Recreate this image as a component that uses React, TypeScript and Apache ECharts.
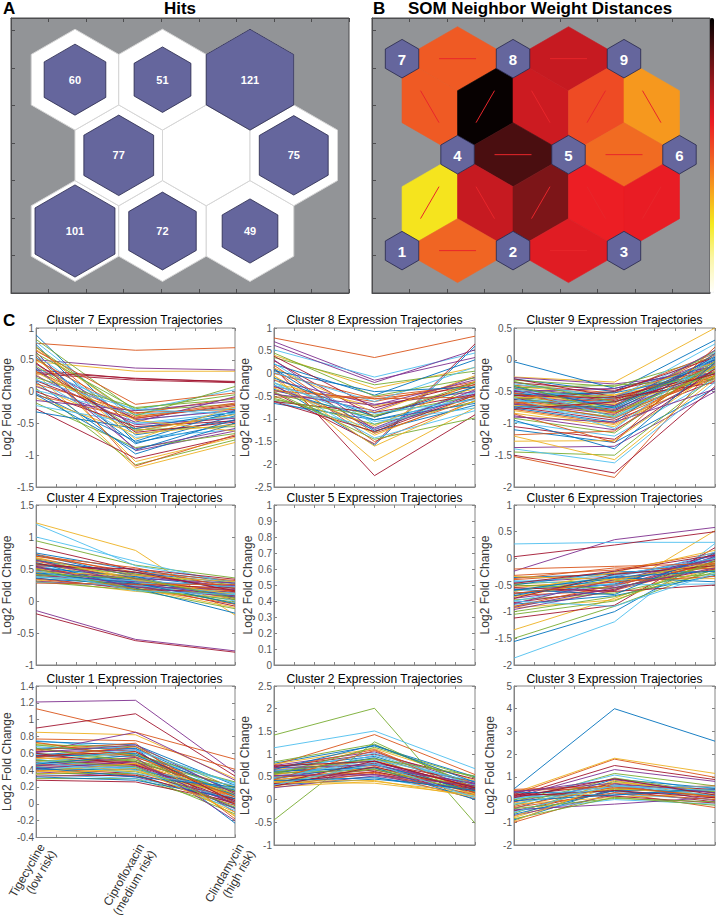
import React, { useEffect, useRef } from 'react';
import * as echarts from 'echarts';

const FONT = '"Liberation Sans", Arial, Helvetica, sans-serif';
const MATLAB_COLORS = ['#0072BD', '#D95319', '#EDB120', '#7E2F8E', '#77AC30', '#4DBEEE', '#A2142F'];
const CONDITIONS = ['Tigecycline\n(low risk)', 'Ciprofloxacin\n(medium risk)', 'Clindamycin\n(high risk)'];

// Panel A: hits per neuron (neurons 1..9; 1-3 bottom row, 4-6 middle, 7-9 top)
const NEURON_HITS = [101, 72, 49, 77, 0, 75, 60, 51, 121];
// Panel B: neighbor pairs and their weight distances (0 = close, 1 = far)
const NEIGHBOR_PAIRS = [[7, 8], [8, 9], [7, 4], [8, 4], [8, 5], [9, 5], [9, 6], [4, 5], [5, 6], [4, 1], [4, 2], [5, 2], [5, 3], [6, 3], [1, 2], [2, 3]];
const NEIGHBOR_DISTANCES = [0.5, 0.69, 0.5, 0.99, 0.68, 0.53, 0.39, 0.89, 0.47, 0.26, 0.69, 0.81, 0.62, 0.63, 0.48, 0.645];
const HOT_COLORS = ['#ffffff', '#fbf6a8', '#f5ea1e', '#f7a11d', '#ef5a24', '#ec1c24', '#a3191e', '#541012', '#000000'];

// Panel C
const CLUSTER_ORDER = [7, 8, 9, 4, 5, 6, 1, 2, 3];
const Y_MIN = [-1.5, -2.5, -2, -1, 0, -2, -0.4, -1, -2];
const Y_MAX = [1, 1, 0.5, 1.5, 1, 1, 1.4, 2.5, 5];
const Y_STEP = [0.5, 0.5, 0.5, 0.5, 0.1, 0.5, 0.2, 0.5, 1];

const cluster7 = [
  [0.89, -0.62, -0.35], [0.76, 0.65, 0.69], [0.47, 0.32, 0.32], [0.5, 0.37, 0.34], [0.82, -0.3, -0.2], [0.78, -0.45, -0.28],
  [0.34, 0.2, 0.16], [0.74, -0.8, -0.5], [0.7, -0.58, -0.4], [0.66, -0.38, -0.25], [0.62, -0.93, -0.62], [0.6, -0.27, -0.05],
  [0.57, -0.5, -0.33], [0.28, 0.18, 0.14], [0.54, -0.68, -0.45], [0.5, -0.35, -0.1], [0.46, -1.1, -0.72], [0.43, -0.44, -0.3],
  [0.4, -0.6, -0.55], [0.37, -0.3, 0.03], [0.3, 0.21, 0.15],
  [0.35, -0.82, -0.38], [0.32, -0.4, -0.18], [0.28, -1.2, -0.8],
  [0.25, -0.52, -0.42], [0.22, -0.25, -0.12], [0.2, -0.72, -0.6], [0.17, -0.42, -0.22], [0.15, -0.98, -0.5], [0.12, -0.33, -0.28],
  [0.1, -0.62, -0.36], [0.08, -0.48, -0.08], [0.05, -1.15, -0.76], [0.02, -0.36, -0.26], [0, -0.55, -0.46], [-0.03, -0.78, -0.3],
  [-0.06, -0.42, -0.2], [-0.1, -0.66, -0.52], [-0.14, -0.3, -0.15], [-0.18, -0.88, -0.66], [-0.22, -0.5, -0.4], [-0.27, -1.05, -0.7],
  [-0.32, -0.58, -0.32], [0.64, -0.2, -0.02], [0.52, -0.75, -0.24], [0.38, -0.9, -0.58], [0.7, -0.38, 0.08], [0.18, -0.28, -0.35],
  [0.45, -0.64, -0.48], [-0.05, -0.92, -0.44], [0.58, -1.17, -0.68], [0.3, -0.45, -0.62],
];
const cluster8 = [
  [-0.25, -1.58, 0.6], [0.78, 0.35, 0.82], [0.4, -0.33, 0.13], [0.7, -0.15, 0.35], [0.35, -0.25, 0.05], [0.52, -0.08, 0.45],
  [0.13, -2.25, -0.91], [0.2, -0.48, 0.3], [0.08, -1.5, -0.6], [-0.05, -1.93, -0.75], [0.62, -0.2, 0.52], [-0.5, -1.3, -0.28],
  [-0.6, -1.22, -0.42], [-0.42, -1.55, 0.65],
  [-0.66, -1.02, -0.55], [-0.3, -0.62, -0.18], [-0.22, -0.72, -0.35], [-0.38, -0.82, -0.08],
  [-0.45, -0.92, -0.5], [0.22, -1.12, -0.4], [0.28, -0.96, -0.24], [0.1, -1.27, -0.7], [0.0, -0.56, -0.3], [-0.05, -1.36, -0.48],
  [-0.15, -0.68, -0.4], [-0.55, -1.12, -0.62], [-0.2, -1.42, -0.82], [0.38, -0.76, -0.2], [-0.35, -1.02, -0.66], [-0.52, -0.52, -0.25],
  [0.12, -0.86, -0.05], [-0.28, -1.2, -0.36], [-0.4, -1.45, -0.98], [0.02, -0.62, 0.14], [-0.62, -0.86, -0.46], [-0.1, -0.96, -0.3],
  [0.18, -1.32, -0.55], [-0.32, -1.16, -0.18], [-0.46, -0.7, -0.14], [0.45, -0.5, -0.1], [-0.2, -1.06, -0.76], [-0.62, -1.28, -0.48],
  [0.06, -0.4, -0.3], [-0.38, -0.56, -0.52], [-0.12, -1.6, -0.6], [0.3, -1.24, -0.45], [-0.58, -0.95, -0.2], [-0.26, -0.88, -0.58],
];
const cluster9 = [
  [-0.3, -0.5, 0.31], [-1.52, -1.85, -0.1], [-0.27, -0.35, 0.5], [-0.28, -0.38, -0.2], [-0.32, -0.42, 0.05], [-0.35, -0.62, 0.25],
  [-0.36, -0.48, -0.12], [-0.03, -0.45, -0.1], [-0.4, -0.52, 0.1], [-0.42, -0.55, -0.25], [-0.45, -0.58, 0.0], [-0.46, -0.6, -0.15], [-0.48, -0.62, 0.12],
  [-0.5, -0.64, -0.05], [-0.52, -0.66, -0.3], [-0.53, -0.68, 0.08], [-0.55, -0.7, -0.18], [-0.56, -0.72, -0.02], [-0.58, -0.74, 0.14],
  [-0.6, -0.76, -0.22], [-0.61, -0.78, -0.08], [-0.62, -0.8, 0.02], [-0.64, -0.82, -0.28], [-0.66, -0.84, -0.12], [-0.68, -0.86, 0.06],
  [-0.7, -0.9, -0.2], [-0.72, -0.92, -0.06], [-0.74, -0.95, -0.33], [-0.76, -0.98, 0.1], [-0.78, -1.0, -0.15], [-0.8, -1.02, -0.25],
  [-0.5, -0.45, -0.1], [-0.44, -0.4, -0.3], [-0.38, -0.58, -0.05], [-0.62, -0.5, 0.04], [-0.55, -0.52, -0.2], [-0.68, -0.62, -0.1],
  [-0.72, -0.7, -0.26], [-0.48, -0.72, 0.15], [-0.58, -0.88, -0.08], [-0.65, -0.66, -0.14], [-0.3, -0.58, -0.22], [-0.42, -0.76, 0.0],
  [-0.52, -0.84, -0.3], [-0.6, -0.56, -0.04], [-0.7, -0.8, -0.18], [-0.34, -0.66, -0.12], [-0.46, -0.9, -0.08], [-0.56, -0.6, -0.36],
  [-0.74, -0.74, 0.04], [-0.66, -0.92, -0.24], [-0.84, -1.05, -0.1], [-0.88, -1.1, -0.2], [-0.92, -1.15, -0.02], [-0.98, -1.2, -0.3],
  [-1.05, -1.25, -0.14], [-1.1, -1.3, -0.45], [-1.18, -1.12, -0.06], [-1.28, -1.27, -0.18], [-1.38, -1.36, -0.5], [-1.45, -1.5, -0.25],
  [-1.4, -1.62, -0.35], [-1.5, -1.78, -0.42], [-0.95, -1.4, -0.04], [-0.85, -1.3, 0.2], [-1.2, -1.57, -0.3],
  [-0.9, -0.98, -0.46], [-0.4, -0.82, -0.2], [-0.6, -1.08, 0.06], [-0.78, -0.66, -0.22],
];
const cluster4 = [
  [0.75, 0.48, 0.3], [0.73, 0.42, 0.2], [1.22, 0.79, -0.22], [-0.15, -0.6, -0.78], [0.94, 0.56, 0.36], [1.2, 0.55, 0.3],
  [0.84, 0.48, 0.14], [0.72, 0.38, 0.05], [0.7, 0.45, 0.32], [0.68, 0.35, 0.12], [0.66, 0.4, 0.22], [0.65, 0.3, -0.05],
  [1.0, 0.62, 0.26], [-0.2, -0.62, -0.8],
  [0.63, 0.44, 0.28], [0.62, 0.34, 0.08], [0.6, 0.28, 0.18], [0.58, 0.36, 0.02],
  [0.57, 0.42, 0.25], [0.55, 0.3, 0.1], [0.54, 0.25, -0.08], [0.52, 0.38, 0.2], [0.51, 0.32, 0.15], [0.5, 0.27, 0.04],
  [0.48, 0.35, 0.28], [0.47, 0.22, -0.02], [0.46, 0.3, 0.12], [0.45, 0.26, 0.2], [0.44, 0.33, 0.06], [0.42, 0.24, 0.16],
  [0.41, 0.2, -0.1], [0.4, 0.3, 0.24], [0.39, 0.22, 0.08], [0.38, 0.28, 0.0], [0.36, 0.18, 0.14], [0.35, 0.26, 0.1],
  [0.34, 0.2, -0.05], [0.33, 0.15, 0.05], [0.31, 0.22, 0.18], [0.3, 0.17, -0.12], [0.29, 0.24, 0.12], [0.55, 0.5, 0.34],
  [0.6, 0.2, -0.19], [0.7, 0.52, 0.2], [0.45, 0.4, 0.3], [0.64, 0.27, 0.08], [0.5, 0.18, 0.02], [0.37, 0.32, 0.22],
  [0.58, 0.45, 0.16], [0.43, 0.28, -0.04], [0.28, 0.26, 0.26], [0.67, 0.33, 0.1], [0.53, 0.22, 0.06], [0.41, 0.36, 0.04],
  [0.47, 0.16, 0.1],
];
const cluster5: number[][] = [];
const cluster6 = [
  [-1.56, -1.0, 0.05], [-0.32, -0.22, 0.1], [-0.9, -0.62, 0.52], [-0.24, 0.35, 0.58], [-1.5, -0.9, -0.2], [0.27, 0.3, 0.3],
  [0.03, 0.25, 0.5], [-0.36, -0.3, -0.05], [-0.4, -0.28, -0.18], [-1.34, -0.75, -0.05], [-0.45, -0.35, 0.05], [-0.48, -0.4, -0.1],
  [-1.87, -1.19, 0.28], [-1.12, -0.88, 0.2],
  [-0.5, -0.25, -0.25], [-0.52, -0.45, 0.0], [-0.55, -0.38, -0.15], [-0.58, -0.5, 0.08],
  [-0.6, -0.42, -0.3], [-0.62, -0.33, -0.08], [-0.65, -0.55, -0.2], [-0.67, -0.48, 0.02], [-0.7, -0.6, -0.12], [-0.72, -0.4, -0.38],
  [-0.75, -0.52, -0.02], [-0.78, -0.65, -0.22], [-0.8, -0.46, 0.12], [-0.83, -0.58, -0.06], [-0.86, -0.7, -0.32], [-0.9, -0.5, -0.1],
  [-0.93, -0.78, -0.16], [-0.96, -0.6, 0.04], [-1.0, -0.72, -0.26], [-0.42, -0.5, -0.48], [-0.55, -0.62, -0.5], [-0.7, -0.36, -0.44],
  [-0.38, -0.18, -0.2], [-0.62, -0.26, 0.15], [-0.85, -0.4, -0.02], [-0.5, -0.56, -0.12], [-0.44, -0.32, 0.0], [-0.75, -0.3, -0.14],
  [-0.58, -0.68, 0.1], [-0.66, -0.44, -0.34], [-0.34, -0.4, -0.08], [-0.92, -0.55, -0.18], [-1.05, -0.8, -0.04], [-0.8, -0.9, -0.28],
  [-0.47, -0.24, 0.06], [-0.6, -0.35, -0.24], [-0.2, -0.15, -0.1],
];
const cluster1 = [
  [0.58, 0.66, -0.23], [1.13, 0.85, 0.53], [0.85, 0.82, 0.3], [1.21, 1.23, 0.37], [0.3, 0.3, -0.05], [0.75, 0.65, 0.1],
  [0.9, 1.07, 0.33], [0.74, 0.7, 0.22], [0.77, 0.75, 0.41], [0.72, 0.62, 0.05], [0.62, 0.85, 0.28], [0.7, 0.68, 0.18],
  [0.68, 0.6, -0.02], [0.28, 0.26, 0.02],
  [0.66, 0.66, 0.14], [0.65, 0.55, 0.2], [0.63, 0.58, 0.08], [0.62, 0.64, -0.1], [0.6, 0.52, 0.12],
  [0.59, 0.56, 0.25], [0.57, 0.5, 0.0], [0.56, 0.6, 0.16], [0.55, 0.48, 0.06], [0.54, 0.54, -0.14], [0.52, 0.46, 0.1],
  [0.51, 0.52, 0.2], [0.5, 0.44, 0.02], [0.49, 0.5, 0.14], [0.48, 0.42, -0.05], [0.47, 0.47, 0.08], [0.46, 0.4, 0.18],
  [0.45, 0.45, 0.0], [0.44, 0.38, 0.12], [0.43, 0.43, -0.08], [0.42, 0.36, 0.06], [0.41, 0.41, 0.16], [0.4, 0.34, -0.02],
  [0.39, 0.39, 0.1], [0.38, 0.32, 0.04], [0.36, 0.36, -0.12], [0.35, 0.3, 0.08], [0.33, 0.34, 0.0], [0.32, 0.28, 0.06],
  [0.64, 0.72, -0.18], [0.5, 0.62, -0.15], [0.45, 0.55, -0.2], [0.7, 0.58, 0.26], [0.53, 0.4, 0.22],
  [0.6, 0.46, 0.04], [0.47, 0.58, 0.1], [0.55, 0.68, 0.0], [0.38, 0.48, 0.12], [0.42, 0.5, -0.06], [0.66, 0.5, 0.15],
  [0.5, 0.36, 0.18], [0.57, 0.62, 0.02], [0.43, 0.32, 0.2], [0.73, 0.56, 0.08], [0.35, 0.42, -0.1], [0.61, 0.7, 0.12],
  [0.52, 0.44, -0.04], [0.48, 0.64, 0.24],
];
const cluster2 = [
  [0.8, 1.18, 0.5], [0.76, 1.43, 0.55], [0.78, 1.12, 0.42], [0.75, 1.05, 0.35], [1.42, 2.01, -0.52], [1.14, 1.51, 0.68],
  [0.72, 1.0, 0.45], [0.7, 0.95, 0.28], [0.68, 1.1, 0.2], [0.66, 0.9, 0.38], [0.64, 0.85, 0.15], [-0.45, 1.27, 0.25],
  [0.62, 1.02, 0.32], [0.6, 0.8, 0.4], [0.58, 0.92, 0.1], [0.56, 0.75, 0.3], [0.54, 0.88, 0.22], [0.52, 0.7, 0.36],
  [0.83, 1.22, 0.3],
  [0.5, 0.82, 0.05], [0.48, 0.65, 0.25], [0.46, 0.78, 0.18], [0.44, 0.6, 0.3], [0.42, 0.72, 0.12],
  [0.4, 0.55, 0.2], [0.38, 0.68, 0.28], [0.36, 0.5, 0.08], [0.34, 0.62, 0.16], [0.32, 0.45, 0.24], [0.3, 0.58, 0.02],
  [0.28, 0.4, 0.14], [0.26, 0.52, 0.2], [0.55, 1.15, 0.48], [0.45, 0.98, 0.32], [0.35, 0.85, 0.26], [0.62, 0.7, 0.0],
  [0.5, 0.6, 0.1], [0.4, 0.42, 0.06], [0.7, 0.76, 0.34], [0.58, 0.66, 0.18], [0.48, 0.88, 0.4], [0.3, 0.72, 0.22],
  [0.66, 1.2, 0.38], [0.44, 1.08, 0.14], [0.38, 0.36, 0.1], [0.53, 0.55, 0.3], [0.6, 0.9, 0.52], [0.32, 0.78, 0.04],
  [0.74, 0.84, 0.26], [0.42, 0.48, 0.2],
];
const cluster3 = [
  [0.47, 4.0, 2.57], [0.22, 1.78, 0.98], [0.3, 1.82, 1.15], [0.1, 1.32, 0.8], [-0.1, 1.15, 0.6], [0.0, 1.08, 0.35],
  [0.15, 1.5, 0.88], [-0.9, 0.5, 0.2], [-1.0, 0.3, -0.35], [-0.8, 0.6, 0.1], [-0.7, 0.2, 0.4], [-0.6, 0.8, 0.3],
  [-0.5, 0.0, -0.2],
  [-0.5, 0.4, -0.1], [-0.4, 0.9, 0.5], [-0.3, 0.55, 0.15], [-0.2, 0.1, 0.25], [-0.1, 0.7, -0.05],
  [0.0, 0.45, 0.35], [0.1, 0.25, 0.0], [0.2, 0.65, 0.45], [0.3, 0.35, 0.2], [0.4, 0.5, 0.6], [-0.75, 0.85, 0.05],
  [-0.45, -0.2, 0.1], [-0.25, 0.95, 0.3], [0.05, 0.6, 0.55], [0.25, 0.15, -0.15], [-0.65, 0.4, 0.42], [-0.35, 0.3, 0.0],
  [-0.15, 0.48, 0.22], [0.35, 0.72, 0.3], [-0.85, 0.1, -0.25], [-0.55, 0.65, 0.18], [0.15, 0.4, 0.08], [-0.05, 0.2, 0.48],
  [0.45, 0.58, 0.12], [-0.95, 0.75, 0.38], [0.32, 0.88, 0.28], [-0.4, 0.05, -0.1], [-0.2, 0.58, 0.4], [0.08, 0.92, 0.2],
];
const CLUSTER_DATA: Record<number, number[][]> = {
  1: cluster1, 2: cluster2, 3: cluster3, 4: cluster4, 5: cluster5, 6: cluster6, 7: cluster7, 8: cluster8, 9: cluster9,
};

// ---- layout (pixels / axis units) ----
const PANEL_A = { left: 11, top: 18, width: 338, height: 275 };
const PANEL_B = { left: 372, top: 18, width: 338, height: 275 };
const MAP_X_MAX = 9;
const MAP_Y_MAX = 7.333;
const A_HEX = { x0: 1.704, y0: 1.653, s: 2.33 };
const B_HEX = { x0: 0.8, y0: 1.13, s: 2.955, r: 0.514 };
const COL_LEFT = [34, 274, 514];
const COL_W = 201;
const ROW_TOP = [328, 505, 686];
const ROW_H = [159, 160, 159];
const ROW_TITLE_TOP = [314, 492, 673];

const SQ3 = Math.sqrt(3);
function hexCenter(i: number, h: { x0: number; y0: number; s: number }) {
  const row = Math.floor(i / 3);
  const col = i % 3;
  return [h.x0 + (col + (row % 2) * 0.5) * h.s, h.y0 + row * h.s * SQ3 / 2];
}
function hexPoints(api: any, cx: number, cy: number, r: number) {
  const pts = [];
  for (let k = 0; k < 6; k++) {
    const a = Math.PI / 2 + (k * Math.PI) / 3;
    pts.push(api.coord([cx + r * Math.cos(a), cy + r * Math.sin(a)]));
  }
  return pts;
}
function txt(text: string, x: number, y: number, font: string, fill: string, align = 'center') {
  return {
    type: 'text', x, y, silent: true,
    style: { text, font, fill, align, verticalAlign: 'top', textAlign: align, textVerticalAlign: 'top' },
  };
}

function buildOption() {
  const grids: any[] = [];
  const xAxes: any[] = [];
  const yAxes: any[] = [];
  const series: any[] = [];
  const graphics: any[] = [];

  const mapAxisCommon = {
    axisLabel: { show: false },
    splitLine: { show: false },
    axisLine: { show: true, onZero: false, lineStyle: { color: '#4d4d4f', width: 1 } },
    axisTick: { show: true, inside: true, length: 4, lineStyle: { color: '#4d4d4f' } },
  };
  [PANEL_A, PANEL_B].forEach((p, gi) => {
    grids.push({ ...p, show: true, backgroundColor: '#929497', borderColor: '#4d4d4f', borderWidth: 1 });
    xAxes.push({ type: 'value', gridIndex: gi, min: 0, max: MAP_X_MAX, interval: 1, position: 'bottom', ...mapAxisCommon });
    xAxes.push({ type: 'value', gridIndex: gi, min: 0, max: MAP_X_MAX, interval: 1, position: 'top', ...mapAxisCommon });
    yAxes.push({ type: 'value', gridIndex: gi, min: 0, max: MAP_Y_MAX, interval: 1, position: 'left', ...mapAxisCommon });
  });

  const maxHits = Math.max(...NEURON_HITS);
  const RA = A_HEX.s / SQ3;
  // Panel A: hits
  series.push({
    type: 'custom', coordinateSystem: 'cartesian2d', xAxisIndex: 0, yAxisIndex: 0, silent: true,
    data: NEURON_HITS.map((h, i) => { const c = hexCenter(i, A_HEX); return [c[0], c[1], h]; }),
    renderItem: (params: any, api: any) => {
      const cx = api.value(0), cy = api.value(1), h = api.value(2);
      const children: any[] = [
        { type: 'polygon', shape: { points: hexPoints(api, cx, cy, RA) }, style: { fill: '#ffffff', stroke: '#d6d6d6', lineWidth: 1 } },
      ];
      if (h > 0) {
        const r = RA * Math.sqrt(h / maxHits);
        const c = api.coord([cx, cy]);
        children.push({ type: 'polygon', shape: { points: hexPoints(api, cx, cy, r) }, style: { fill: '#65669d', stroke: '#26264a', lineWidth: 0.8 } });
        children.push({ type: 'text', style: { text: String(h), x: c[0], y: c[1], fill: '#ffffff', font: `bold 11px ${FONT}`, align: 'center', verticalAlign: 'middle', textAlign: 'center', textVerticalAlign: 'middle' } });
      }
      return { type: 'group', children };
    },
  });

  // Panel B: neighbour distance patches
  const patchSeriesIndex = series.length;
  series.push({
    type: 'custom', coordinateSystem: 'cartesian2d', xAxisIndex: 2, yAxisIndex: 1, silent: true,
    data: NEIGHBOR_PAIRS.map((p, k) => [p[0], p[1], NEIGHBOR_DISTANCES[k]]),
    renderItem: (params: any, api: any) => {
      const a = hexCenter(api.value(0) - 1, B_HEX);
      const b = hexCenter(api.value(1) - 1, B_HEX);
      const dx = b[0] - a[0], dy = b[1] - a[1];
      const d = Math.hypot(dx, dy);
      const ux = dx / d, uy = dy / d, vx = -uy, vy = ux;
      const ap = (B_HEX.r * SQ3) / 2, hl = B_HEX.r / 2, h = d / (2 * SQ3);
      const mx = (a[0] + b[0]) / 2, my = (a[1] + b[1]) / 2;
      const pts = [
        [a[0] + ap * ux + hl * vx, a[1] + ap * uy + hl * vy],
        [mx + h * vx, my + h * vy],
        [b[0] - ap * ux + hl * vx, b[1] - ap * uy + hl * vy],
        [b[0] - ap * ux - hl * vx, b[1] - ap * uy - hl * vy],
        [mx - h * vx, my - h * vy],
        [a[0] + ap * ux - hl * vx, a[1] + ap * uy - hl * vy],
      ].map((p) => api.coord(p));
      const color = api.visual('color');
      const l1 = api.coord([a[0] + dx / 3, a[1] + dy / 3]);
      const l2 = api.coord([a[0] + (2 * dx) / 3, a[1] + (2 * dy) / 3]);
      return {
        type: 'group',
        children: [
          { type: 'polygon', shape: { points: pts }, style: { fill: color, stroke: color, lineWidth: 0.6 } },
          { type: 'line', shape: { x1: l1[0], y1: l1[1], x2: l2[0], y2: l2[1] }, style: { stroke: '#e8262b', lineWidth: 1 } },
        ],
      };
    },
  });
  // Panel B: neurons
  series.push({
    type: 'custom', coordinateSystem: 'cartesian2d', xAxisIndex: 2, yAxisIndex: 1, silent: true,
    data: NEURON_HITS.map((_, i) => { const c = hexCenter(i, B_HEX); return [c[0], c[1], i + 1]; }),
    renderItem: (params: any, api: any) => {
      const cx = api.value(0), cy = api.value(1);
      const c = api.coord([cx, cy]);
      return {
        type: 'group',
        children: [
          { type: 'polygon', shape: { points: hexPoints(api, cx, cy, B_HEX.r) }, style: { fill: '#65669d', stroke: '#26264a', lineWidth: 0.8 } },
          { type: 'text', style: { text: String(api.value(2)), x: c[0], y: c[1] + 0.5, fill: '#ffffff', font: `bold 15px ${FONT}`, align: 'center', verticalAlign: 'middle', textAlign: 'center', textVerticalAlign: 'middle' } },
        ],
      };
    },
  });

  // Panel C: trajectories
  CLUSTER_ORDER.forEach((cid, k) => {
    const row = Math.floor(k / 3), col = k % 3;
    const gi = grids.length;
    grids.push({ left: COL_LEFT[col], top: ROW_TOP[row], width: COL_W, height: ROW_H[row], show: true, borderColor: '#858585', borderWidth: 1, backgroundColor: 'transparent' });
    const tick = { show: true, inside: true, length: 3, lineStyle: { color: '#858585' } };
    const isLabelled = cid === 1;
    const xb = xAxes.length;
    xAxes.push({
      type: 'value', gridIndex: gi, min: 1, max: 3, interval: 0.2, position: 'bottom',
      axisLine: { show: true, onZero: false, lineStyle: { color: '#858585' } }, axisTick: tick, splitLine: { show: false },
      axisLabel: isLabelled
        ? {
            show: true, rotate: 60, margin: 4, fontSize: 12, color: '#333333', fontFamily: FONT, lineHeight: 13,
            verticalAlign: 'top', showMinLabel: true, showMaxLabel: true,
            formatter: (v: number) => { const r = Math.round(v); return Math.abs(v - r) < 1e-6 && r >= 1 && r <= 3 ? CONDITIONS[r - 1] : ''; },
          }
        : { show: false },
    });
    xAxes.push({ type: 'value', gridIndex: gi, min: 1, max: 3, interval: 0.2, position: 'top', axisLine: { show: false, onZero: false }, axisTick: tick, axisLabel: { show: false }, splitLine: { show: false } });
    const yl = yAxes.length;
    yAxes.push({
      type: 'value', gridIndex: gi, min: Y_MIN[k], max: Y_MAX[k], interval: Y_STEP[k], position: 'left',
      name: 'Log2 Fold Change', nameLocation: 'middle', nameGap: 18,
      nameTextStyle: { fontSize: 12, color: '#3a3a3a', fontFamily: FONT },
      axisLine: { show: true, onZero: false, lineStyle: { color: '#858585' } }, axisTick: tick, splitLine: { show: false },
      axisLabel: { show: true, fontSize: 10, color: '#555555', margin: 2, fontFamily: FONT, showMinLabel: true, showMaxLabel: true },
    });
    yAxes.push({ type: 'value', gridIndex: gi, min: Y_MIN[k], max: Y_MAX[k], interval: Y_STEP[k], position: 'right', axisLine: { show: false, onZero: false }, axisTick: tick, axisLabel: { show: false }, splitLine: { show: false } });

    CLUSTER_DATA[cid].forEach((gene, gk) => {
      series.push({
        type: 'line', xAxisIndex: xb, yAxisIndex: yl, symbol: 'none', silent: true, clip: true,
        data: gene.map((v, c) => [c + 1, v]),
        lineStyle: { color: MATLAB_COLORS[gk % MATLAB_COLORS.length], width: 0.9 },
        itemStyle: { color: MATLAB_COLORS[gk % MATLAB_COLORS.length] },
      });
    });

    graphics.push(txt(`Cluster ${cid} Expression Trajectories`, COL_LEFT[col] + COL_W / 2, ROW_TITLE_TOP[row], `12px ${FONT}`, '#000000'));
  });

  graphics.push(txt('A', 3, 0, `bold 17px ${FONT}`, '#000000', 'left'));
  graphics.push(txt('Hits', 180, 0, `bold 17px ${FONT}`, '#000000'));
  graphics.push(txt('B', 373, 0, `bold 17px ${FONT}`, '#000000', 'left'));
  graphics.push(txt('SOM Neighbor Weight Distances', 540, 0, `bold 17px ${FONT}`, '#000000'));
  graphics.push(txt('C', 3, 312, `bold 17px ${FONT}`, '#000000', 'left'));

  return {
    animation: false,
    backgroundColor: '#ffffff',
    textStyle: { fontFamily: FONT },
    grid: grids,
    xAxis: xAxes,
    yAxis: yAxes,
    visualMap: [{
      type: 'continuous', min: 0, max: 1, dimension: 2, seriesIndex: patchSeriesIndex,
      inRange: { color: HOT_COLORS }, left: 710, top: 18, itemWidth: 4, itemHeight: 275,
      calculable: false, hoverLink: false, padding: 0, text: null, show: true,
    }],
    series,
    graphic: graphics,
  };
}

export default function App() {
  const ref = useRef<HTMLDivElement>(null);
  useEffect(() => {
    if (!ref.current) return;
    const chart = echarts.init(ref.current, undefined, { renderer: 'svg' });
    chart.setOption(buildOption() as any);
    return () => chart.dispose();
  }, []);
  return <div ref={ref} style={{ position: 'absolute', left: 0, top: 0, width: 720, height: 920 }} />;
}
